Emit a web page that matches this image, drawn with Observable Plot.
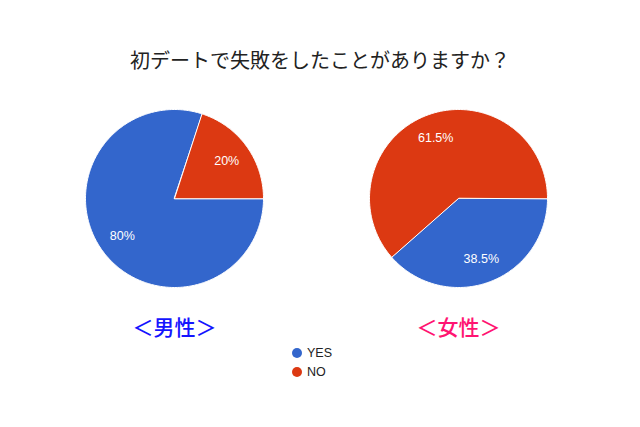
<!DOCTYPE html>
<html><head><meta charset="utf-8">
<script src="https://cdn.jsdelivr.net/npm/d3@7"></script>
<script src="https://cdn.jsdelivr.net/npm/@observablehq/plot@0.6"></script>
<style>
body{margin:0;background:#fff;width:640px;height:427px;overflow:hidden;font-family:"Liberation Sans",Arial,sans-serif}
#title{height:88px;box-sizing:border-box;padding-top:50px;text-align:center;font-family:"Noto Sans CJK JP",sans-serif;font-size:20px;line-height:20px;color:#222}
#chart svg{display:block}
#legend{position:relative;height:89px}
.item{position:absolute;left:292px;display:flex;align-items:center;font-size:12.5px;color:#222;height:14px}
.dot{width:10px;height:10px;border-radius:50%;margin-right:5px}
</style></head><body>
<div id="title"></div>
<div id="chart"></div>
<div id="legend"></div>
<script>
const titleText = "初デートで失敗をしたことがありますか？";
const groups = ["男性", "女性"];
const groupLabels = ["＜男性＞", "＜女性＞"];
const groupColors = ["#1414ff", "#ff1472"];
const answers = ["YES", "NO"];
const answerColors = ["#3366cc", "#dc3912"];
const yesPct = [80, 38.5];
const noPct = [20, 61.5];

document.getElementById("title").textContent = titleText;

const R = 89;
const pie = d3.pie().sort(null).startAngle(Math.PI / 2).endAngle(Math.PI / 2 + 2 * Math.PI);
const slicePoints = [], labelPoints = [];
groups.forEach((g, i) => {
  const vals = [yesPct[i], noPct[i]];
  pie(vals).forEach((a, j) => {
    const key = g + answers[j];
    slicePoints.push({group: g, answer: answers[j], key, x: 0, y: 0});
    const n = Math.max(2, Math.ceil((a.endAngle - a.startAngle) / (Math.PI / 180)));
    for (let k = 0; k <= n; k++) {
      const t = a.startAngle + (a.endAngle - a.startAngle) * k / n;
      slicePoints.push({group: g, answer: answers[j], key, x: Math.sin(t), y: Math.cos(t)});
    }
    const m = (a.startAngle + a.endAngle) / 2;
    labelPoints.push({group: g, x: 0.725 * Math.sin(m), y: 0.725 * Math.cos(m), text: vals[j] + "%"});
  });
});

const groupMarks = groups.map((g, i) =>
  Plot.text([g], {fx: d => d, x: 0, y: -130 / R, text: () => groupLabels[i], fill: groupColors[i],
    fontSize: 21, fontWeight: 500, fontFamily: "Noto Sans CJK JP"}));

const chart = Plot.plot({
  width: 640, height: 250,
  marginTop: 0, marginBottom: 0, marginLeft: 32, marginRight: 40,
  fx: {domain: groups, padding: 0, axis: null},
  x: {domain: [-142 / R, 142 / R], axis: null},
  y: {domain: [-140 / R, 110 / R], axis: null},
  color: {domain: answers, range: answerColors},
  style: {background: "transparent", overflow: "visible"},
  marks: [
    Plot.line(slicePoints, {fx: "group", x: "x", y: "y", z: "key", fill: "answer", stroke: "white", strokeWidth: 1, curve: "linear-closed"}),
    Plot.text(labelPoints, {fx: "group", x: "x", y: "y", text: "text", fill: "white", fontSize: 12.5, fontFamily: "Liberation Sans"}),
    ...groupMarks
  ]
});
document.getElementById("chart").appendChild(chart);

const legend = document.getElementById("legend");
answers.forEach((a, i) => {
  const item = document.createElement("div");
  item.className = "item";
  item.style.top = (8 + i * 19) + "px";
  const dot = document.createElement("span");
  dot.className = "dot";
  dot.style.background = answerColors[i];
  const lab = document.createElement("span");
  lab.textContent = a;
  item.appendChild(dot); item.appendChild(lab);
  legend.appendChild(item);
});
</script>
</body></html>
